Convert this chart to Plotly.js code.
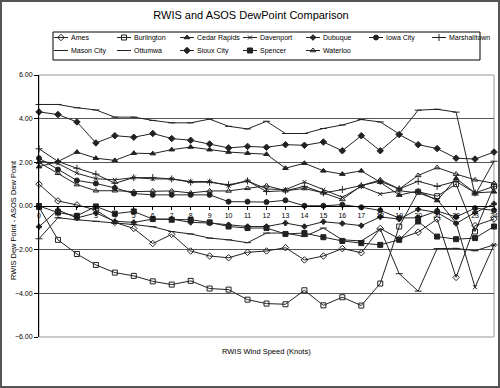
<!DOCTYPE html>
<html>
<head>
<meta charset="utf-8">
<script src="https://cdn.plot.ly/plotly-3.0.1.min.js"></script>
<style>
  html, body { margin: 0; padding: 0; background: #fff; }
  #wrap { position: relative; width: 500px; height: 388px; }
  #chart { width: 500px; height: 388px; }
  #frame { position: absolute; left: 0; top: 0; width: 500px; height: 388px; box-sizing: border-box; border: 2px solid #555; pointer-events: none; }
</style>
</head>
<body>
<div id="wrap"><div id="chart"></div><div id="frame"></div></div>
<script>
const windSpeed = [0,1,2,3,4,5,6,7,8,9,10,11,12,13,14,15,16,17,18,19,20,21,22,23,24];
const tickLabels = windSpeed.map(String);

const ames         = [1.0,0.23,0.05,-0.18,-0.75,-1.03,-1.72,-1.3,-2.06,-2.29,-2.37,-2.12,-2.06,-1.91,-2.47,-2.29,-1.95,-2.14,-1.03,-1.5,-1.2,-0.6,-3.27,-0.9,-0.6];
const burlington   = [-0.05,-1.55,-2.2,-2.7,-3.05,-3.2,-3.45,-3.6,-3.43,-3.78,-3.83,-4.29,-4.47,-4.5,-3.86,-4.55,-4.18,-4.56,-3.55,-0.94,0.65,0.45,1.0,-1.17,0.9];
const cedarRapids  = [1.8,2.04,2.47,2.19,2.09,2.42,2.40,2.58,2.70,2.58,2.47,2.42,2.37,1.73,1.96,1.61,1.46,1.61,1.09,0.5,0.69,0.25,1.26,0.6,0.65];
const davenport    = [2.05,1.95,1.5,1.25,1.2,1.3,1.24,1.24,1.12,1.12,0.93,1.15,0.78,0.75,1.1,0.75,0.4,0.9,0.55,0.7,0.6,0.3,-0.78,-3.72,-1.78];
const dubuque      = [-0.95,-0.18,-0.55,-0.32,-0.7,-0.75,-0.6,-0.6,-0.75,-0.78,-0.86,-0.94,-0.94,-0.78,-0.94,-0.72,-0.8,-0.9,-0.5,-0.6,-0.15,-0.3,-0.8,-0.3,0.1];
const iowaCity     = [2.19,1.67,1.17,1.03,0.83,0.57,0.51,0.51,0.51,0.51,0.2,0.2,0.18,0.26,0.01,0.01,0.06,-0.06,-0.2,-0.55,-0.54,-0.23,-0.5,-0.1,-0.2];
const marshalltown = [2.62,2.04,1.73,1.46,1.04,1.30,1.30,1.24,1.09,1.09,0.97,1.15,0.66,0.7,0.9,0.6,0.75,0.93,1.13,0.78,1.13,0.9,1.13,0.6,0.9];
const masonCity    = [4.65,4.65,4.5,4.4,4.07,4.07,3.92,3.81,3.81,3.98,3.65,3.53,3.88,3.32,3.32,3.55,3.71,3.96,3.85,3.3,4.39,4.43,4.3,0.5,2.05];
const ottumwa      = [-1.5,-0.54,-0.63,-0.7,-0.8,-0.85,-0.95,-1.17,-1.28,-1.47,-1.55,-1.68,-1.24,-1.24,-1.4,-1.01,-1.55,-1.6,-1.06,-3.1,-3.9,-1.95,-1.94,-2.05,-1.78];
const siouxCity    = [4.31,4.19,3.85,2.89,3.22,3.15,3.32,3.09,3.01,2.84,2.66,2.73,2.69,2.81,2.78,2.93,2.53,3.22,2.53,3.27,2.81,2.63,2.19,2.15,2.47];
const spencer      = [0.0,-0.3,-0.45,-0.02,-0.35,-0.25,-0.6,-0.63,-0.63,-0.75,-0.94,-1.01,-1.01,-1.28,-1.24,-1.43,-1.6,-1.7,-1.78,-1.55,-0.71,-1.4,-1.52,-1.47,-0.94];
const waterloo     = [2.0,1.5,0.98,0.7,0.7,0.66,0.69,0.69,0.6,0.69,0.69,0.81,0.93,0.7,0.8,0.6,0.3,0.93,1.2,0.78,1.4,1.76,1.46,1.2,1.04];

const seriesNames = ['Ames','Burlington','Cedar Rapids','Davenport','Dubuque','Iowa City','Marshalltown','Mason City','Ottumwa','Sioux City','Spencer','Waterloo'];
const seriesValues = [ames,burlington,cedarRapids,davenport,dubuque,iowaCity,marshalltown,masonCity,ottumwa,siouxCity,spencer,waterloo];
const seriesSymbols = ['diamond-open','square-open','triangle-up','x-thin-open','cross','circle','cross-thin-open','line-ew-open','line-ew-open','diamond','square','triangle-up-open'];
const seriesSizes = [5,5,5,4,4,5,5,5,5,5,5,5];

const FONT = 'Liberation Sans, Arial, sans-serif';
const INK = '#222';

const traces = seriesNames.map((name, i) => ({
  type: 'scatter',
  mode: 'lines+markers',
  name: name,
  x: windSpeed,
  y: seriesValues[i],
  line: { color: INK, width: 1 },
  marker: { symbol: seriesSymbols[i], size: seriesSizes[i], color: INK, line: { color: INK, width: 1 } },
  cliponaxis: false
}));

const W = 500, H = 388, L = 39, R = 6, T = 75, B = 51;
const pw = W - L - R, ph = H - T - B;
const px2x = p => (p - L) / pw;
const px2y = p => (H - B - p) / ph;

const layout = {
  width: W, height: H,
  margin: { l: L, r: R, t: T, b: B, pad: 0 },
  paper_bgcolor: '#fff',
  plot_bgcolor: '#fff',
  font: { family: FONT, color: '#000', size: 7 },
  showlegend: true,
  title: { text: 'RWIS and ASOS DewPoint Comparison', font: { family: FONT, size: 11, color: '#000' },
           xref: 'container', x: 0.502, xanchor: 'center', yref: 'container', y: 1 - 15/H, yanchor: 'middle' },
  xaxis: {
    range: [0, 24], tickvals: windSpeed, ticktext: tickLabels,
    anchor: 'free', position: 0.5,
    showline: true, linecolor: '#000', linewidth: 1,
    ticks: 'outside', ticklen: 3, tickcolor: '#000', tickwidth: 1,
    showgrid: false, zeroline: false,
    tickfont: { family: FONT, size: 7, color: '#000' },
    fixedrange: true
  },
  yaxis: {
    range: [-6, 6], dtick: 2, tick0: 0, tickformat: '.2f',
    showline: true, linecolor: '#000', linewidth: 1,
    ticks: 'outside', ticklen: 4, tickcolor: '#000',
    showgrid: true, gridcolor: '#555', gridwidth: 1,
    zeroline: false,
    tickfont: { family: FONT, size: 7, color: '#000' },
    fixedrange: true
  },
  legend: {
    orientation: 'h',
    x: px2x(50), xanchor: 'left', xref: 'paper',
    y: px2y(23), yanchor: 'top', yref: 'paper',
    borderwidth: 0, bgcolor: 'rgba(0,0,0,0)',
    font: { family: FONT, size: 7, color: '#000' },
    entrywidth: 18, entrywidthmode: 'pixels',
    itemwidth: 30, tracegroupgap: 0, traceorder: 'normal'
  },
  shapes: [
    { type: 'rect', xref: 'paper', yref: 'paper', x0: 0, x1: 1, y0: 0, y1: 1,
      line: { color: '#999', width: 1 }, layer: 'below' },
    { type: 'rect', xref: 'paper', yref: 'paper', x0: px2x(53), x1: px2x(480), y0: px2y(60), y1: px2y(32),
      line: { color: '#000', width: 1 }, layer: 'below' }
  ],
  annotations: [
    { text: 'RWIS Wind Speed (Knots)', xref: 'paper', yref: 'paper',
      x: px2x(266), y: px2y(351), xanchor: 'center', yanchor: 'middle', showarrow: false,
      font: { family: FONT, size: 7.5, color: '#000' } },
    { text: 'RWIS Dew Point - ASOS Dew Point', xref: 'paper', yref: 'paper',
      x: px2x(13), y: px2y(220), xanchor: 'center', yanchor: 'middle', showarrow: false, textangle: -90,
      font: { family: FONT, size: 7.5, color: '#000' } }
  ]
};

// compact the legend keys and rows so the legend looks like the short Excel-style key
const ROW_GAP = 13;
function setAttr(el, name, val) {
  if (el.getAttribute(name) !== val) el.setAttribute(name, val);
}
function compactLegend(root) {
  const items = Array.from(root.querySelectorAll('.legendtext')).map(t => t.parentNode);
  if (!items.length) return;
  const pos = items.map(g => {
    const m = /translate\(\s*([-\d.e]+)[ ,]+([-\d.e]+)\s*\)/.exec(g.getAttribute('transform') || '');
    return m ? [parseFloat(m[1]), parseFloat(m[2])] : null;
  });
  const ys = pos.filter(Boolean).map(p => p[1]);
  const y0 = Math.min.apply(null, ys);
  items.forEach((g, i) => {
    g.querySelectorAll('.legendlines path').forEach(p => setAttr(p, 'd', 'M4,0h14'));
    g.querySelectorAll('.legendpoints path').forEach(p => setAttr(p, 'transform', 'translate(11,0)'));
    const t = g.querySelector('.legendtext');
    setAttr(t, 'x', '21');
    t.querySelectorAll('tspan[x]').forEach(s => setAttr(s, 'x', '21'));
    if (pos[i] && pos[i][1] > y0 + 1) {
      setAttr(g, 'transform', 'translate(' + pos[i][0] + ',' + (y0 + ROW_GAP) + ')');
    }
  });
  root.querySelectorAll('.scrollbox').forEach(s => s.removeAttribute('clip-path'));
}

const gd = document.getElementById('chart');
Plotly.newPlot(gd, traces, layout, { staticPlot: true, displayModeBar: false }).then(() => {
  compactLegend(gd);
});
</script>
</body>
</html>
